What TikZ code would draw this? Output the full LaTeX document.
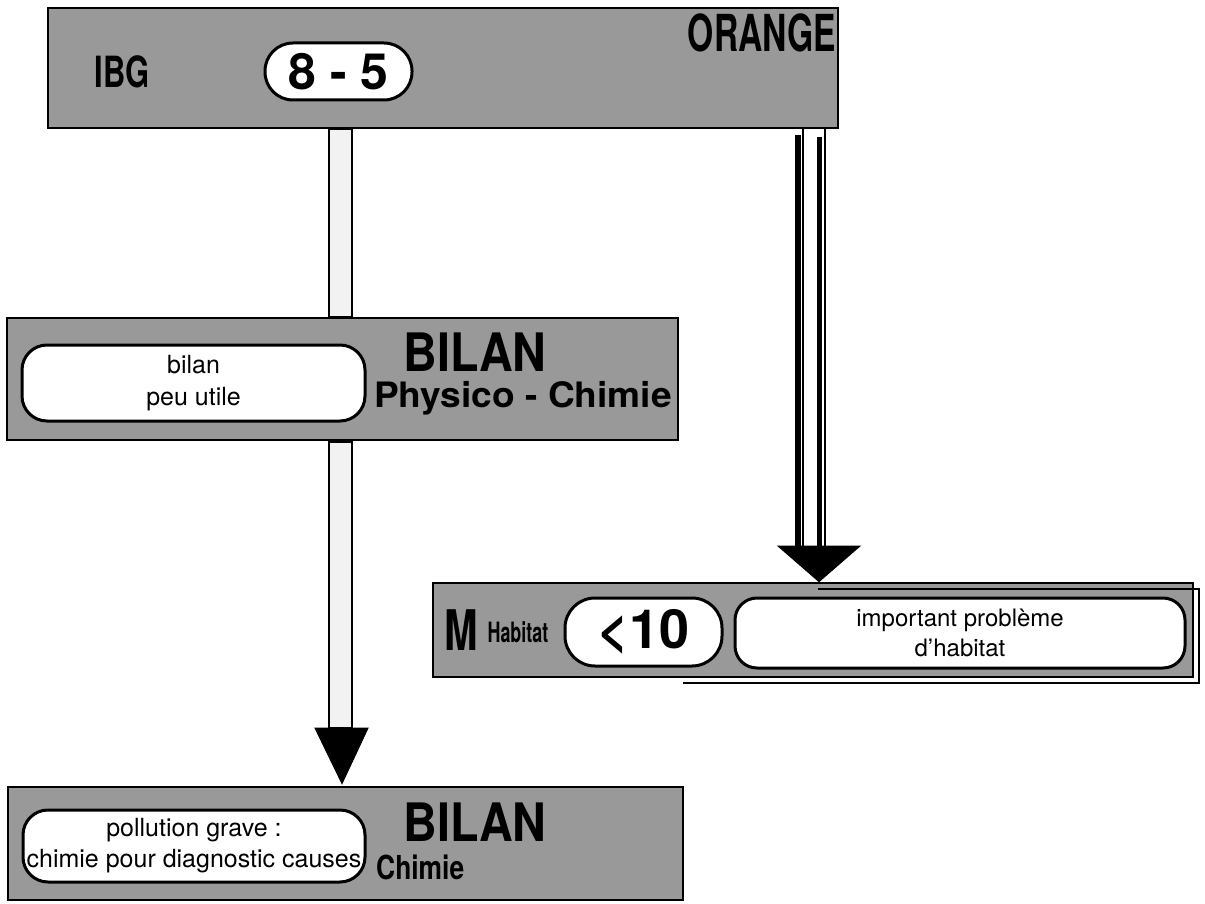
\documentclass[tikz,border=0pt]{standalone}
\usepackage{fontspec}
\setmainfont{TeX Gyre Heros}
\usepackage{graphicx}
\newcommand{\fs}[2]{\fontsize{#1}{#2}\selectfont}
\newcommand{\xs}[2]{\scalebox{#1}[1]{#2}}
\begin{document}
\begin{tikzpicture}[x=1pt,y=-1pt,
  panel/.style={draw=black, line width=2.8pt, fill=black!40, inner sep=0pt, rectangle},
  pill/.style={draw=black, line width=3pt, fill=white, inner sep=0pt, rectangle},
  head/.style={font=\bfseries, inner sep=0pt},
  body/.style={inner sep=0pt, align=center},
  shaft/.style={draw=black, line width=2.2pt, fill=gray!10},
  tip/.style={fill=black, draw=black, line width=1pt}]
\useasboundingbox (0,0) rectangle (1205,904);
\fill[white] (0,0) rectangle (1205,904);

% ---- box 1
\node[panel, minimum width=790pt, minimum height=120pt] (top) at (443,68) {};
\node[pill, rounded corners=28pt, minimum width=147pt, minimum height=57pt] (p85) at (338.5,71.5) {};
\node[head] (n85) at (p85.center) {\fs{50}{50}8 - 5};
\node[head] (ibg) at (122,72) {\xs{0.72}{\fs{43}{43}IBG}};
\node[head] (orange) at (762,33) {\xs{0.66}{\fs{51}{51}ORANGE}};

% ---- box 2
\node[panel, minimum width=671pt, minimum height=122pt] (phys) at (342.5,379) {};
\node[pill, rounded corners=25pt, minimum width=343pt, minimum height=76pt] (pbilan) at (193.5,383) {};
\node[body, font=\fs{25}{32}] (tbilan) at (pbilan.center) {bilan\\peu utile};
\node[head, text depth=0pt] (bil1) at (475,352) {\xs{0.88}{\fs{53}{53}BILAN}};
\node[head, anchor=west] (pc) at (374,398) {\xs{1.06}{\fs{35}{35}Physico - Chimie}};

% ---- box 3
\node[panel, minimum width=760pt, minimum height=94pt] (hab) at (813,630) {};
\node[head] (m) at (461,630) {\xs{0.72}{\fs{56}{56}M}};
\node[head] (habt) at (518,632) {\xs{0.64}{\fs{28}{28}Habitat}};
\node[pill, rounded corners=30pt, minimum width=157pt, minimum height=68pt] (p10) at (643.5,632) {};
\node[head] (t10) at (p10.center) {\fs{54}{54}<10};
\node[pill, rounded corners=22pt, minimum width=450pt, minimum height=70pt] (phab) at (960,633) {};
\node[body, font=\fs{24}{30}] (thab) at (phab.center) {important problème\\d'habitat};
\coordinate (f1) at (818,589);
\coordinate (f2) at (1199,589);
\coordinate (f3) at (1199,683);
\coordinate (f4) at (683,683);
\draw[line width=2.5pt] (f1) -- (f2) -- (f3) -- (f4);

% ---- box 4
\node[panel, minimum width=675pt, minimum height=113pt] (chim) at (345.5,843.5) {};
\node[pill, rounded corners=25pt, minimum width=342pt, minimum height=72pt] (ppol) at (194,846) {};
\node[body, font=\fs{25}{31}] (tpol) at (ppol.center) {pollution grave :\\chimie pour diagnostic causes};
\node[head, text depth=0pt] (bil2) at (475,822) {\xs{0.88}{\fs{53}{53}BILAN}};
\node[head, anchor=west] (ch2) at (376,867) {\xs{0.8}{\fs{33}{33}Chimie}};

% ---- left arrow (top -> phys -> chim)
\path[shaft] (329,0 |- top.south) rectangle (352,0 |- phys.north);
\path[shaft] (329,0 |- phys.south) rectangle (352,728);
\coordinate (lt) at (342,0 |- chim.north);
\path[tip] (315,728) -- (368,728) -- ([yshift=2pt]lt) -- cycle;

% ---- right arrow (top -> hab)
\draw[line width=1.6pt] (803,0 |- top.south) -- (803,548);
\draw[line width=1.6pt] (825,0 |- top.south) -- (825,548);
\fill[black] (795,135) rectangle (801,548);
\fill[black] (817,137) rectangle (822,548);
\coordinate (rt) at (819,0 |- hab.north);
\path[tip] (778,546) -- (860,546) -- (rt) -- cycle;
\end{tikzpicture}
\end{document}
